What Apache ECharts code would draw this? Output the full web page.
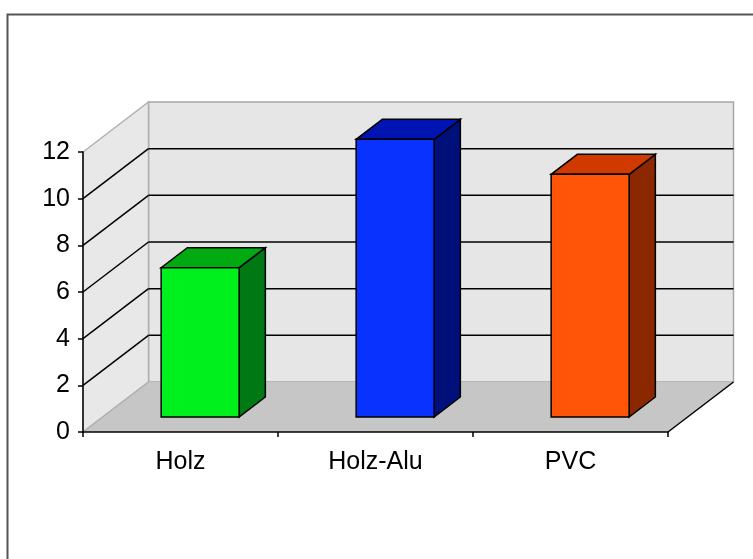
<!DOCTYPE html>
<html>
<head>
<meta charset="utf-8">
<script src="https://cdn.jsdelivr.net/npm/echarts@6/dist/echarts.min.js"></script>
<style>
html,body{margin:0;padding:0;background:#fff;}
#chart{width:753px;height:559px;}
</style>
</head>
<body>
<div id="chart"></div>
<script>
// ---- data ----
var categories = ['Holz', 'Holz-Alu', 'PVC'];
var values = [6.4, 11.9, 10.4];
var yTicks = [0, 2, 4, 6, 8, 10, 12];

// ---- styles ----
var faceColors = ['#00f01e', '#0a32ff', '#ff5508'];
var topColors = ['#00aa10', '#0014b4', '#d03a00'];
var sideColors = ['#007814', '#00107a', '#8c2800'];
var DEPTH = [65.5, -50];      // oblique projection of the full depth
var BAR_FRONT = 0.3, BAR_DEPTH = 0.4, BAR_WIDTH = 0.4;
var FONT = '"Liberation Sans", Arial, sans-serif';

var chart = echarts.init(document.getElementById('chart'), null, {renderer: 'canvas'});

function pts(list) { return list.map(function (p) { return [p[0], p[1]]; }); }
function off(p, f) { return [p[0] + DEPTH[0] * f, p[1] + DEPTH[1] * f]; }

function renderWalls(params, api) {
  var cs = params.coordSys;
  var x0 = cs.x, x1 = cs.x + cs.width;
  var yMin = yTicks[0], yMax = yTicks[yTicks.length - 1];
  var y0 = api.coord([0, yMin])[1];
  var yT = api.coord([0, yMax])[1];
  var children = [];
  // back wall
  children.push({type: 'polygon', shape: {points: pts([off([x0, y0], 1), off([x1, y0], 1), off([x1, yT], 1), off([x0, yT], 1)])},
    style: {fill: '#e6e6e6', stroke: '#a8a8a8', lineWidth: 1.5}});
  // side wall
  children.push({type: 'polygon', shape: {points: pts([[x0, y0], off([x0, y0], 1), off([x0, yT], 1), [x0, yT]])},
    style: {fill: '#e8e8e8', stroke: '#b0b0b0', lineWidth: 1.5}});
  // floor
  children.push({type: 'polygon', shape: {points: pts([[x0, y0], [x1, y0], off([x1, y0], 1), off([x0, y0], 1)])},
    style: {fill: '#c6c6c6', stroke: null}});
  children.push({type: 'line', shape: {x1: x0, y1: y0, x2: x0 + DEPTH[0], y2: y0 + DEPTH[1]},
    style: {stroke: '#b0b0b0', lineWidth: 1.5}});
  children.push({type: 'line', shape: {x1: x1, y1: y0, x2: x1 + DEPTH[0], y2: y0 + DEPTH[1]},
    style: {stroke: '#000', lineWidth: 1.5}});
  // gridlines
  yTicks.forEach(function (v) {
    if (v === yMin || v === yMax) return;
    var y = api.coord([0, v])[1];
    children.push({type: 'line', shape: {x1: x0, y1: y, x2: x0 + DEPTH[0], y2: y + DEPTH[1]},
      style: {stroke: '#000', lineWidth: 1.5}});
    children.push({type: 'line', shape: {x1: x0 + DEPTH[0], y1: y + DEPTH[1], x2: x1 + DEPTH[0], y2: y + DEPTH[1]},
      style: {stroke: '#000', lineWidth: 1.5}});
  });
  return {type: 'group', children: children};
}

function renderBar(params, api) {
  var idx = api.value(0), val = api.value(1);
  var top = api.coord([idx, val]);
  var base = api.coord([idx, 0]);
  var bw = api.size([1, 0])[0] * BAR_WIDTH;
  var fl = off([top[0] - bw / 2, top[1]], BAR_FRONT);
  var fr = off([top[0] + bw / 2, top[1]], BAR_FRONT);
  var bl = off([base[0] - bw / 2, base[1]], BAR_FRONT);
  var br = off([base[0] + bw / 2, base[1]], BAR_FRONT);
  var i = params.dataIndex;
  var st = {stroke: '#000', lineWidth: 1.5, lineJoin: 'miter'};
  return {type: 'group', children: [
    {type: 'polygon', shape: {points: [fr, off(fr, BAR_DEPTH), off(br, BAR_DEPTH), br]},
      style: Object.assign({fill: sideColors[i]}, st)},
    {type: 'polygon', shape: {points: [fl, fr, off(fr, BAR_DEPTH), off(fl, BAR_DEPTH)]},
      style: Object.assign({fill: topColors[i]}, st)},
    {type: 'polygon', shape: {points: [fl, fr, br, bl]},
      style: Object.assign({fill: faceColors[i]}, st)}
  ]};
}

var option = {
  animation: false,
  backgroundColor: '#ffffff',
  graphic: [{
    type: 'rect', left: 5, top: 12, z: 100,
    shape: {x: 0, y: 0, width: 800, height: 600},
    style: {fill: null, stroke: '#555', lineWidth: 2}
  }],
  grid: {left: 83, right: 85, top: 152, bottom: 127, containLabel: false},
  xAxis: {
    type: 'category', data: categories, boundaryGap: true,
    axisLine: {show: true, lineStyle: {color: '#000', width: 1.5}},
    axisTick: {show: true, length: 5, lineStyle: {color: '#000', width: 1.5}},
    axisLabel: {color: '#000', fontSize: 25, fontFamily: FONT, margin: 18},
    z: 10
  },
  yAxis: {
    type: 'value', min: yTicks[0], max: yTicks[yTicks.length - 1], interval: 2,
    axisLine: {show: true, lineStyle: {color: '#000', width: 1.5}},
    axisTick: {show: true, length: 5, lineStyle: {color: '#000', width: 1.5}},
    axisLabel: {color: '#000', fontSize: 25, fontFamily: FONT, margin: 13},
    splitLine: {show: false},
    z: 10
  },
  series: [
    {type: 'custom', renderItem: renderWalls, data: [[0, 0]], clip: false, z: 1, silent: true},
    {type: 'custom', renderItem: renderBar, clip: false, z: 5,
      data: values.map(function (v, i) { return [i, v]; })}
  ]
};
chart.setOption(option);
</script>
</body>
</html>
